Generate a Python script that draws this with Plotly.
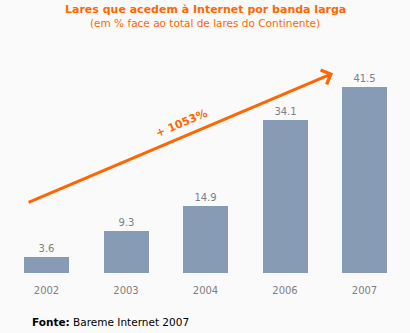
import plotly.graph_objects as go

years = ["2002", "2003", "2004", "2006", "2007"]
values = [3.6, 9.3, 14.9, 34.1, 41.5]
growth_label = "+ 1053%"

xpos = list(range(len(years)))
BG = "#fafafa"
ORANGE = "#ff6600"
BAR = "#879cb4"
GREY = "#7f7f7f"
FONT = "DejaVu Sans"

fig = go.Figure()
fig.add_trace(go.Bar(
    x=xpos, y=values, width=0.566, marker=dict(color=BAR, line=dict(width=0)),
    text=[f"{v:.1f}" for v in values], textposition="outside",
    textfont=dict(family=FONT, size=10, color=GREY), cliponaxis=False,
    hoverinfo="skip",
))

fig.update_layout(
    width=410, height=333, margin=dict(l=0, r=0, t=0, b=60),
    paper_bgcolor=BG, plot_bgcolor=BG, showlegend=False, bargap=0,
    xaxis=dict(range=[-46.5 / 79.5, (410 - 46.5) / 79.5], tickmode="array",
               tickvals=xpos, ticktext=years, showgrid=False, zeroline=False,
               showline=False, ticks="", ticklabelstandoff=10,
               tickfont=dict(family=FONT, size=10, color=GREY), fixedrange=True),
    yaxis=dict(range=[0, 273 / 4.48], visible=False, fixedrange=True),
)

# growth arrow
fig.add_annotation(
    x=3.604, y=44.6, ax=-0.245, ay=15.6, xref="x", yref="y", axref="x", ayref="y",
    text="", showarrow=True, arrowhead=4, arrowsize=1.0, arrowwidth=3,
    arrowcolor=ORANGE,
)
fig.add_annotation(
    x=(181 - 46.5) / 79.5, y=(273 - 123) / 4.48, xref="x", yref="y",
    text=f"<b>{growth_label}</b>", showarrow=False, textangle=-23,
    font=dict(family=FONT, size=11, color=ORANGE),
)

def py(pix):
    return (273 - pix) / 273

fig.add_annotation(x=0.5, y=py(10), xref="paper", yref="paper", showarrow=False,
                   text="<b>Lares que acedem à Internet por banda larga</b>",
                   font=dict(family=FONT, size=11, color=ORANGE), yanchor="middle")
fig.add_annotation(x=0.5, y=py(23), xref="paper", yref="paper", showarrow=False,
                   text="(em % face ao total de lares do Continente)",
                   font=dict(family=FONT, size=10.5, color=ORANGE), yanchor="middle")
fig.add_annotation(x=30 / 410, y=py(322), xref="paper", yref="paper", showarrow=False,
                   xanchor="left", yanchor="middle",
                   text="<b>Fonte:</b> Bareme Internet 2007",
                   font=dict(family=FONT, size=10.5, color="#000000"))

fig.write_html("out.html")
